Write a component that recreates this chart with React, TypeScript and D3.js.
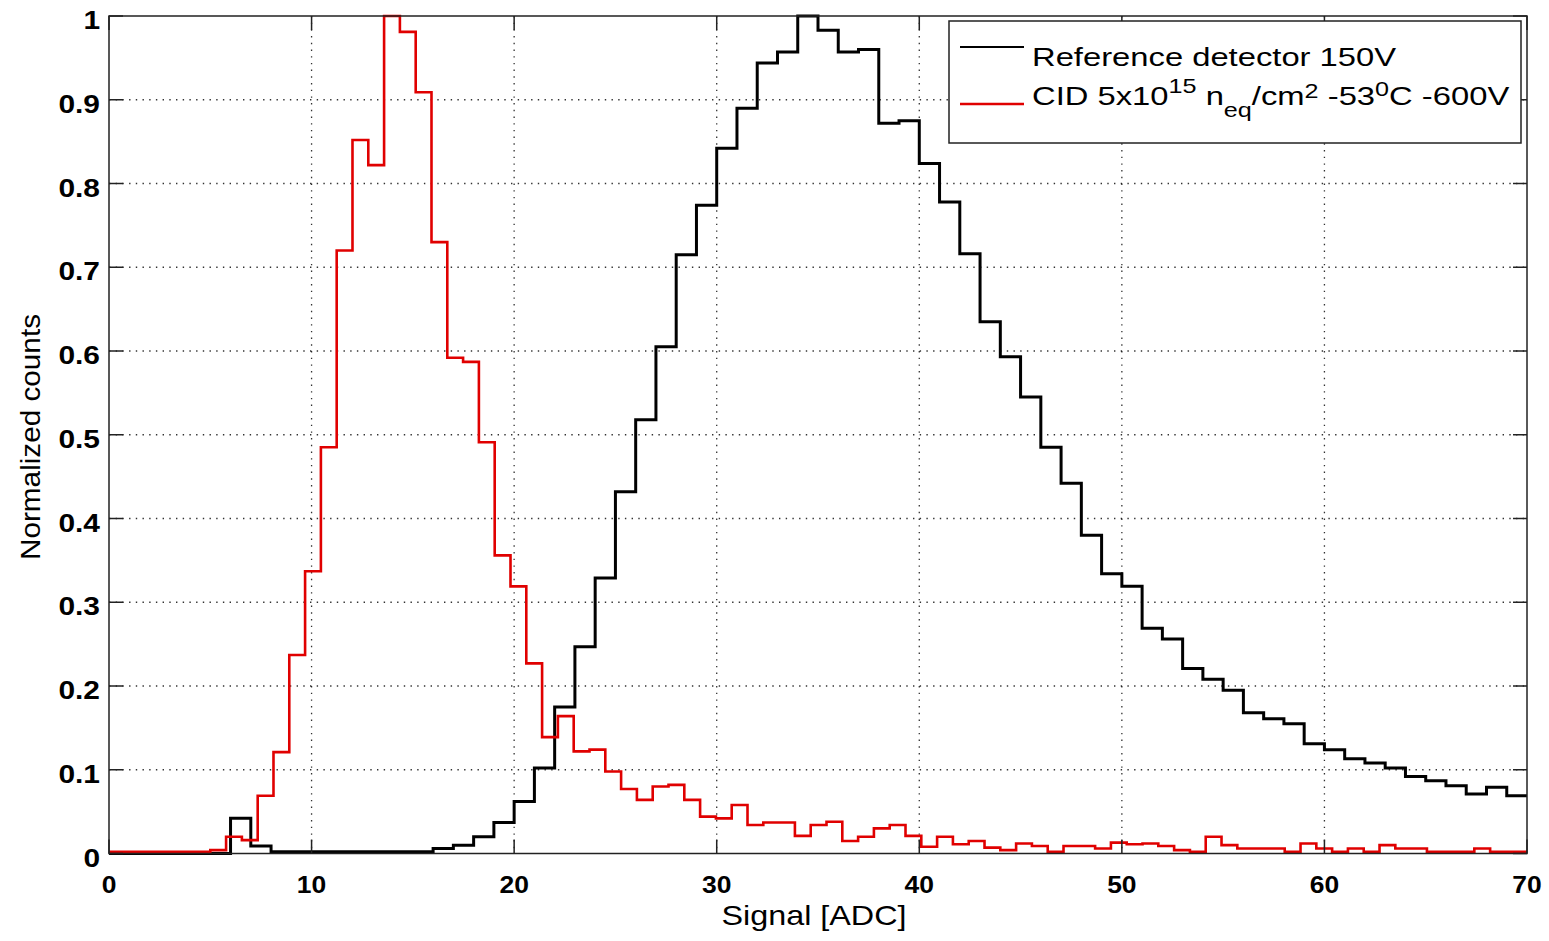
import React from "react";
import * as d3 from "d3";

// ---------- data ----------
// Reference detector: integer-width bins starting at 0 ADC
const BLACK_BIN_START = 0;
const BLACK_BIN_WIDTH = 1;
const BLACK_VALUES = [
  0, 0, 0, 0, 0, 0, 0.042, 0.009, 0.002, 0.002, 0.002, 0.002, 0.002, 0.002, 0.002, 0.002,
  0.006, 0.01, 0.02, 0.037, 0.062, 0.102, 0.175, 0.247, 0.329, 0.432,
  0.518, 0.605, 0.715, 0.774, 0.842, 0.89, 0.944, 0.957, 1.0, 0.983,
  0.957, 0.96, 0.872, 0.875, 0.824, 0.778, 0.716, 0.635, 0.593, 0.545,
  0.485, 0.442, 0.38, 0.334, 0.319, 0.269, 0.256, 0.221, 0.208, 0.195,
  0.168, 0.161, 0.155, 0.131, 0.124, 0.113, 0.108, 0.102, 0.092, 0.087,
  0.081, 0.071, 0.079, 0.069,
];

// CID detector: bins of 0.78 ADC
const RED_BIN_START = -0.46;
const RED_BIN_WIDTH = 0.78;
const RED_VALUES = [
  0.002, 0.002, 0.002, 0.002, 0.002, 0.002, 0.002,
  0.004, 0.02, 0.016, 0.069, 0.121, 0.237, 0.337, 0.485, 0.72, 0.852, 0.822, 1.0, 0.981,
  0.909, 0.73, 0.592, 0.587, 0.491, 0.356, 0.319, 0.227, 0.139, 0.164, 0.122, 0.124,
  0.098, 0.077, 0.064, 0.08, 0.082, 0.064, 0.044, 0.042, 0.058, 0.034,
  0.037, 0.037, 0.021, 0.034, 0.038, 0.015, 0.02, 0.03, 0.034, 0.021,
  0.008, 0.02, 0.011, 0.015, 0.007, 0.004,
  0.012, 0.009, 0.002, 0.009, 0.009, 0.006, 0.013, 0.011, 0.012, 0.009,
  0.004, 0.002, 0.02, 0.01, 0.006, 0.006, 0.006, 0.002, 0.012, 0.006,
  0.002, 0.006, 0.002, 0.01, 0.006, 0.006, 0.002, 0.002, 0.002, 0.006,
  0.002, 0.002, 0.002,
];

const X_TICKS = [0, 10, 20, 30, 40, 50, 60, 70];
const Y_TICKS = [0, 0.1, 0.2, 0.3, 0.4, 0.5, 0.6, 0.7, 0.8, 0.9, 1];
const Y_TICK_LABELS = ["0", "0.1", "0.2", "0.3", "0.4", "0.5", "0.6", "0.7", "0.8", "0.9", "1"];

const X_LABEL = "Signal [ADC]";
const Y_LABEL = "Normalized counts";
const LEGEND_REF = "Reference detector 150V";

// ---------- layout ----------
const W = 1549;
const H = 941;
const PL = 109;
const PR = 1527;
const PT = 16;
const PB = 853.5;
const FONT = "'Liberation Sans', Arial, Helvetica, sans-serif";

function stairsPoints(start: number, width: number, values: number[]): [number, number][] {
  const pts: [number, number][] = values.map((v, i) => [start + i * width, v]);
  pts.push([start + values.length * width, values[values.length - 1]]);
  return pts;
}

export default function App() {
  const x = d3.scaleLinear().domain([0, 70]).range([PL, PR]);
  const y = d3.scaleLinear().domain([0, 1]).range([PB, PT]);

  const line = d3
    .line<[number, number]>()
    .x((d) => x(d[0]))
    .y((d) => y(d[1]))
    .curve(d3.curveStepAfter);

  const blackPath = line(stairsPoints(BLACK_BIN_START, BLACK_BIN_WIDTH, BLACK_VALUES)) || "";
  const redPath = line(stairsPoints(RED_BIN_START, RED_BIN_WIDTH, RED_VALUES)) || "";

  const tickLen = 14;
  const gridDash = "1.4,5.3";

  return (
    <div style={{ position: "absolute", left: 0, top: 0, width: W, height: H, background: "#fff" }}>
      <svg width={W} height={H} style={{ display: "block" }} fontFamily={FONT}>
        <rect x={0} y={0} width={W} height={H} fill="#fff" />
        <defs>
          <clipPath id="plotClip">
            <rect x={PL} y={PT - 2} width={PR - PL} height={PB - PT + 4} />
          </clipPath>
        </defs>

        {/* grid */}
        {X_TICKS.filter((t) => t > 0 && t < 70).map((t) => (
          <line key={"gx" + t} x1={x(t)} x2={x(t)} y1={PT} y2={PB} stroke="#000" strokeWidth={1.3}
            strokeDasharray={gridDash} opacity={0.8} />
        ))}
        {Y_TICKS.filter((t) => t > 0 && t < 1).map((t) => (
          <line key={"gy" + t} x1={PL} x2={PR} y1={y(t)} y2={y(t)} stroke="#000" strokeWidth={1.3}
            strokeDasharray={gridDash} opacity={0.8} />
        ))}

        {/* histograms */}
        <g clipPath="url(#plotClip)">
          <path d={blackPath} fill="none" stroke="#000" strokeWidth={3} strokeLinejoin="miter" />
          <path d={redPath} fill="none" stroke="#e00000" strokeWidth={2.6} strokeLinejoin="miter" />
        </g>

        {/* axes box */}
        <rect x={PL} y={PT} width={PR - PL} height={PB - PT} fill="none" stroke="#222" strokeWidth={1.5} />

        {/* ticks */}
        {X_TICKS.map((t) => (
          <g key={"tx" + t}>
            <line x1={x(t)} x2={x(t)} y1={PB} y2={PB - tickLen} stroke="#222" strokeWidth={1.5} />
            <line x1={x(t)} x2={x(t)} y1={PT} y2={PT + tickLen} stroke="#222" strokeWidth={1.5} />
            <text transform={`translate(${x(t)},893) scale(1.15,1)`} textAnchor="middle" fontSize={23}
              fontWeight="bold" fill="#000">{t}</text>
          </g>
        ))}
        {Y_TICKS.map((t, i) => (
          <g key={"ty" + t}>
            <line x1={PL} x2={PL + tickLen} y1={y(t)} y2={y(t)} stroke="#222" strokeWidth={1.5} />
            <line x1={PR} x2={PR - tickLen} y1={y(t)} y2={y(t)} stroke="#222" strokeWidth={1.5} />
            <text transform={`translate(100,${y(t) + 13}) scale(1.15,1)`} textAnchor="end" fontSize={26}
              fontWeight="bold" fill="#000">{Y_TICK_LABELS[i]}</text>
          </g>
        ))}

        {/* axis labels */}
        <text x={814} y={925} textAnchor="middle" fontSize={28} fill="#000" textLength={185}
          lengthAdjust="spacingAndGlyphs">{X_LABEL}</text>
        <text transform="translate(40,437) rotate(-90)" textAnchor="middle" fontSize={28} fill="#000"
          textLength={246} lengthAdjust="spacingAndGlyphs">{Y_LABEL}</text>

        {/* legend */}
        <rect x={949} y={21} width={572} height={122} fill="#fff" stroke="#222" strokeWidth={1.5} />
        <line x1={960} x2={1024} y1={47} y2={47} stroke="#000" strokeWidth={2} />
        <line x1={960} x2={1024} y1={104} y2={104} stroke="#e00000" strokeWidth={2.6} />
        <g transform="translate(1032,65.5) scale(1.26,1)">
          <text x={0} y={0} fontSize={26} fill="#000">{LEGEND_REF}</text>
        </g>
        <g transform="translate(1032,104.5) scale(1.26,1)">
          <text x={0} y={0} fontSize={26} fill="#000">
            <tspan>CID 5x10</tspan>
            <tspan fontSize={20} dy={-11.5}>15</tspan>
            <tspan dy={11.5}>{"\u00a0n"}</tspan>
            <tspan fontSize={20} dy={12.5}>eq</tspan>
            <tspan dy={-12.5}>/cm</tspan>
            <tspan fontSize={20} dy={-7}>2</tspan>
            <tspan dy={7}>{"\u00a0-53"}</tspan>
            <tspan fontSize={20} dy={-8.5}>0</tspan>
            <tspan dy={8.5}>C -600V</tspan>
          </text>
        </g>
      </svg>
    </div>
  );
}
